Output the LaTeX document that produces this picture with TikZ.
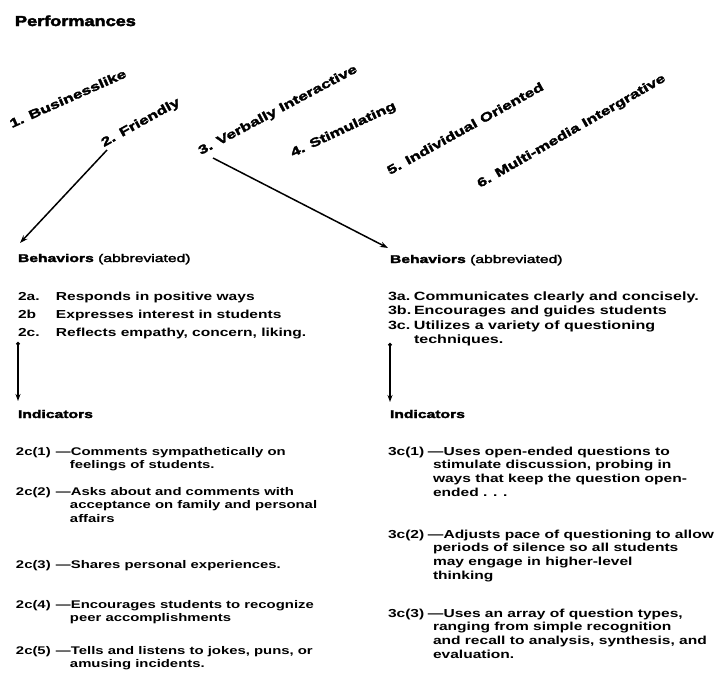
\documentclass[tikz,border=0pt]{standalone}
\usepackage{fontspec}
\usetikzlibrary{arrows.meta}
% Wide, heavy sans faces for a typewritten-report look
\newfontfamily\bodyfont{Liberation Sans}[FakeStretch=1.34]
\newfontfamily\headfont{Liberation Sans}[FakeStretch=1.4,FakeBold=2.5]
\newfontfamily\titlefont{Liberation Sans}[FakeStretch=1.25,FakeBold=3]

\begin{document}
\begin{tikzpicture}[x=1pt,y=-1pt,
  every node/.style={inner sep=0pt,outer sep=0pt},
  ttl/.style={anchor=base west,font=\titlefont\bfseries\fontsize{14.5}{17}\selectfont},
  perf/.style={anchor=base west,font=\headfont\bfseries\fontsize{12.3}{14}\selectfont},
  head/.style={anchor=base west,font=\headfont\fontsize{11.2}{14}\selectfont},
  itemsA/.style={anchor=base west,font=\bodyfont\bfseries\fontsize{11.6}{18}\selectfont},
  itemsB/.style={anchor=base west,font=\bodyfont\bfseries\fontsize{12}{14.6}\selectfont},
  indicL/.style={anchor=base west,font=\bodyfont\bfseries\fontsize{11.1}{13.8}\selectfont},
  indicR/.style={anchor=base west,font=\bodyfont\bfseries\fontsize{11.6}{13.8}\selectfont},
  arr/.style={-{Stealth[length=8pt,width=5.5pt]},line width=1.5pt},
  varr/.style={{Circle[length=3.5pt]}-{Stealth[length=7pt,width=5pt]},line width=1.8pt}
]
\fill[white] (0,0) rectangle (720,699);
\useasboundingbox (0,0) rectangle (720,699);

% title
\node[ttl] (title) at (15,26) {Performances};

% the six performances, set on a slant
\node[perf,rotate=24] (p1) at (12,128) {1. Businesslike};
\node[perf,rotate=29] (p2) at (104,147) {2. Friendly};
\node[perf,rotate=28] (p3) at (201,155) {3. Verbally Interactive};
\node[perf,rotate=25] (p4) at (293,157) {4. Stimulating};
\node[perf,rotate=29] (p5) at (390,175) {5. Individual Oriented};
\node[perf,rotate=30] (p6) at (480,188) {6. Multi-media Intergrative};

% ---- left column: Friendly
\node[head] (bhL) at (18,262) {\bfseries Behaviors\mdseries\ (abbreviated)};
\node[itemsA] (biL) at (18,300) {\begin{tabular}[t]{@{}l@{}}
\makebox[38pt][l]{2a.}Responds in positive ways\\
\makebox[38pt][l]{2b}Expresses interest in students\\
\makebox[38pt][l]{2c.}Reflects empathy, concern, liking.
\end{tabular}};
\node[head] (inL) at (18,418) {\bfseries Indicators};

\node[indicL] (cL1) at (16,455) {\begin{tabular}[t]{@{}l@{}}
\makebox[40pt][l]{2c(1)}—Comments sympathetically on\\
\hspace*{54pt}feelings of students.
\end{tabular}};
\node[indicL] (cL2) at (16,495) {\begin{tabular}[t]{@{}l@{}}
\makebox[40pt][l]{2c(2)}—Asks about and comments with\\
\hspace*{54pt}acceptance on family and personal\\
\hspace*{54pt}affairs
\end{tabular}};
\node[indicL] (cL3) at (16,568) {\begin{tabular}[t]{@{}l@{}}
\makebox[40pt][l]{2c(3)}—Shares personal experiences.
\end{tabular}};
\node[indicL] (cL4) at (16,608) {\begin{tabular}[t]{@{}l@{}}
\makebox[40pt][l]{2c(4)}—Encourages students to recognize\\
\hspace*{54pt}peer accomplishments
\end{tabular}};
\node[indicL] (cL5) at (16,654) {\begin{tabular}[t]{@{}l@{}}
\makebox[40pt][l]{2c(5)}—Tells and listens to jokes, puns, or\\
\hspace*{54pt}amusing incidents.
\end{tabular}};

% ---- right column: Verbally Interactive
\node[head] (bhR) at (390,263) {\bfseries Behaviors\mdseries\ (abbreviated)};
\node[itemsB] (biR) at (388,300) {\begin{tabular}[t]{@{}l@{}}
\makebox[26pt][l]{3a.}Communicates clearly and concisely.\\
\makebox[26pt][l]{3b.}Encourages and guides students\\
\makebox[26pt][l]{3c.}Utilizes a variety of questioning\\
\hspace*{26pt}techniques.
\end{tabular}};
\node[head] (inR) at (390,418) {\bfseries Indicators};

\node[indicR] (cR1) at (388,455) {\begin{tabular}[t]{@{}l@{}}
\makebox[40pt][l]{3c(1)}—Uses open-ended questions to\\
\hspace*{45pt}stimulate discussion, probing in\\
\hspace*{45pt}ways that keep the question open-\\
\hspace*{45pt}ended . . .
\end{tabular}};
\node[indicR] (cR2) at (388,538) {\begin{tabular}[t]{@{}l@{}}
\makebox[40pt][l]{3c(2)}—Adjusts pace of questioning to allow\\
\hspace*{45pt}periods of silence so all students\\
\hspace*{45pt}may engage in higher-level\\
\hspace*{45pt}thinking
\end{tabular}};
\node[indicR] (cR3) at (388,617) {\begin{tabular}[t]{@{}l@{}}
\makebox[40pt][l]{3c(3)}—Uses an array of question types,\\
\hspace*{45pt}ranging from simple recognition\\
\hspace*{45pt}and recall to analysis, synthesis, and\\
\hspace*{45pt}evaluation.
\end{tabular}};

% connectors
\draw[arr] ([shift={(3,3)}]p2.base west) -- ([shift={(2,-19)}]bhL.base west);
\draw[arr] ([shift={(12,3)}]p3.base west) -- ([shift={(-2,-15)}]bhR.base west);

\coordinate (vL) at (18,342);
\coordinate (vR) at (390,343);
\draw[varr] (vL) -- ([shift={(0,-17)}]inL.base west);
\draw[varr] (vR) -- ([shift={(0,-16)}]inR.base west);
\end{tikzpicture}
\end{document}
